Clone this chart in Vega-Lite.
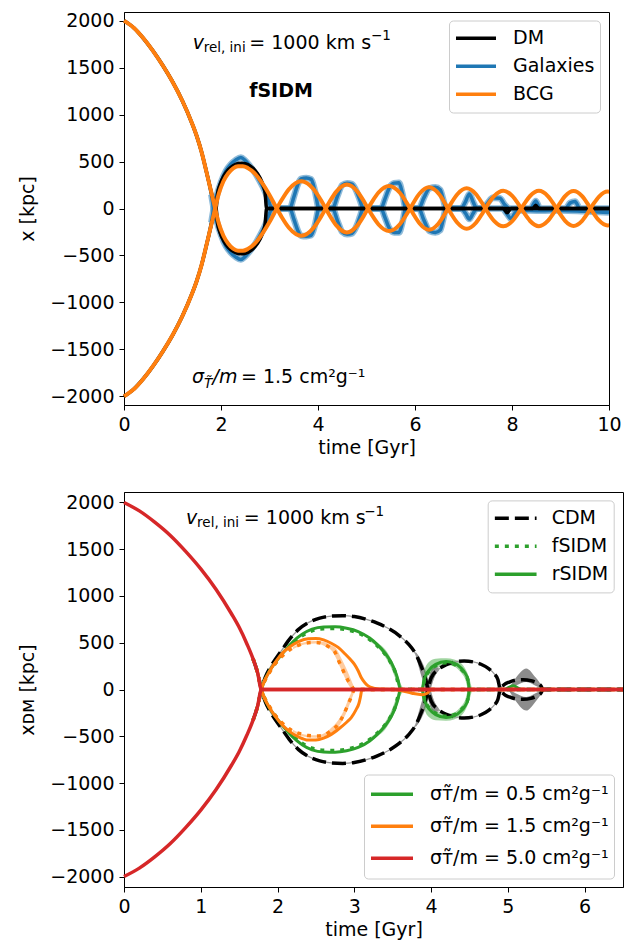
{
  "$schema": "https://vega.github.io/schema/vega-lite/v6.json",
  "background": "white",
  "padding": {"left": 18, "top": 11, "right": 5, "bottom": 2},
  "config": {
    "font": "DejaVu Sans",
    "mark": {"invalid": "filter"},
    "view": {"stroke": "black", "strokeWidth": 1},
    "axis": {"domainColor": "black", "tickColor": "black", "tickSize": 5, "tickWidth": 1, "domainWidth": 1, "labelFontSize": 19, "titleFontSize": 19, "labelColor": "black", "titleColor": "black", "titleFontWeight": "normal", "grid": false, "labelPadding": 5, "labelFont": "DejaVu Sans", "titleFont": "DejaVu Sans", "labelFlush": false},
    "axisX": {"titlePadding": 4},
    "axisY": {"titlePadding": 12},
    "legend": {"labelFont": "DejaVu Sans", "labelColor": "black", "labelFontSize": 19, "labelLimit": 400, "symbolType": "stroke", "symbolStrokeWidth": 3.5, "padding": 5, "strokeColor": "#cccccc", "fillColor": "rgba(255,255,255,0.8)", "cornerRadius": 4, "rowPadding": 2},
    "text": {"font": "DejaVu Sans", "color": "black", "align": "left", "baseline": "alphabetic"}
  },
  "datasets": {
    "top": [
      {"s":"BCG","t":0,"a":2000,"b":-2000},{"s":"BCG","t":0.2,"a":1925,"b":-1925},{"s":"BCG","t":0.4,"a":1812,"b":-1812},{"s":"BCG","t":0.6,"a":1676,"b":-1676},{"s":"BCG","t":0.8,"a":1522,"b":-1522},{"s":"BCG","t":1.0,"a":1350,"b":-1350},{"s":"BCG","t":1.2,"a":1150,"b":-1150},{"s":"BCG","t":1.4,"a":910,"b":-910},{"s":"BCG","t":1.5,"a":770,"b":-770},{"s":"BCG","t":1.6,"a":600,"b":-600},{"s":"BCG","t":1.7,"a":390,"b":-390},{"s":"BCG","t":1.76,"a":259,"b":-259},{"s":"BCG","t":1.82,"a":130,"b":-130},{"s":"BCG","t":1.88,"a":0,"b":0},{"s":"BCG","t":1.95,"a":-150,"b":150},{"s":"BCG","t":2.05,"a":-290,"b":290},{"s":"BCG","t":2.15,"a":-375,"b":375},{"s":"BCG","t":2.25,"a":-428,"b":428},{"s":"BCG","t":2.35,"a":-450,"b":450},{"s":"BCG","t":2.45,"a":-450,"b":450},{"s":"BCG","t":2.55,"a":-432,"b":432},{"s":"BCG","t":2.7,"a":-372,"b":372},{"s":"BCG","t":2.85,"a":-270,"b":270},{"s":"BCG","t":3.0,"a":-145,"b":145},{"s":"BCG","t":3.15,"a":0,"b":0},{"s":"BCG","t":3.25,"a":90,"b":-90},{"s":"BCG","t":3.4,"a":205,"b":-205},{"s":"BCG","t":3.655,"a":290,"b":-290},{"s":"BCG","t":3.91,"a":205,"b":-205},{"s":"BCG","t":4.06,"a":90,"b":-90},{"s":"BCG","t":4.16,"a":0,"b":0},{"s":"BCG","t":4.247,"a":-79,"b":79},{"s":"BCG","t":4.378,"a":-180,"b":180},{"s":"BCG","t":4.595,"a":-255,"b":255},{"s":"BCG","t":4.813,"a":-180,"b":180},{"s":"BCG","t":4.943,"a":-79,"b":79},{"s":"BCG","t":5.03,"a":0,"b":0},{"s":"BCG","t":5.117,"a":74,"b":-74},{"s":"BCG","t":5.248,"a":170,"b":-170},{"s":"BCG","t":5.465,"a":240,"b":-240},{"s":"BCG","t":5.683,"a":170,"b":-170},{"s":"BCG","t":5.813,"a":74,"b":-74},{"s":"BCG","t":5.9,"a":0,"b":0},{"s":"BCG","t":5.978,"a":-70,"b":70},{"s":"BCG","t":6.095,"a":-159,"b":159},{"s":"BCG","t":6.29,"a":-225,"b":225},{"s":"BCG","t":6.485,"a":-159,"b":159},{"s":"BCG","t":6.602,"a":-70,"b":70},{"s":"BCG","t":6.68,"a":0,"b":0},{"s":"BCG","t":6.757,"a":66,"b":-66},{"s":"BCG","t":6.873,"a":152,"b":-152},{"s":"BCG","t":7.065,"a":215,"b":-215},{"s":"BCG","t":7.258,"a":152,"b":-152},{"s":"BCG","t":7.373,"a":66,"b":-66},{"s":"BCG","t":7.45,"a":0,"b":0},{"s":"BCG","t":7.524,"a":-59,"b":59},{"s":"BCG","t":7.635,"a":-134,"b":134},{"s":"BCG","t":7.82,"a":-190,"b":190},{"s":"BCG","t":8.005,"a":-134,"b":134},{"s":"BCG","t":8.116,"a":-59,"b":59},{"s":"BCG","t":8.19,"a":0,"b":0},{"s":"BCG","t":8.263,"a":58,"b":-58},{"s":"BCG","t":8.373,"a":133,"b":-133},{"s":"BCG","t":8.555,"a":188,"b":-188},{"s":"BCG","t":8.738,"a":133,"b":-133},{"s":"BCG","t":8.847,"a":58,"b":-58},{"s":"BCG","t":8.92,"a":0,"b":0},{"s":"BCG","t":8.99,"a":-57,"b":57},{"s":"BCG","t":9.095,"a":-131,"b":131},{"s":"BCG","t":9.27,"a":-185,"b":185},{"s":"BCG","t":9.445,"a":-131,"b":131},{"s":"BCG","t":9.55,"a":-57,"b":57},{"s":"BCG","t":9.62,"a":0,"b":0},{"s":"BCG","t":9.69,"a":56,"b":-56},{"s":"BCG","t":9.795,"a":127,"b":-127},{"s":"BCG","t":9.97,"a":180,"b":-180},{"s":"BCG","t":10,"a":179,"b":-179},
      {"s":"DM","t":0,"a":2000,"b":-2000},{"s":"DM","t":0.2,"a":1925,"b":-1925},{"s":"DM","t":0.4,"a":1812,"b":-1812},{"s":"DM","t":0.6,"a":1676,"b":-1676},{"s":"DM","t":0.8,"a":1522,"b":-1522},{"s":"DM","t":1.0,"a":1350,"b":-1350},{"s":"DM","t":1.2,"a":1150,"b":-1150},{"s":"DM","t":1.4,"a":910,"b":-910},{"s":"DM","t":1.5,"a":770,"b":-770},{"s":"DM","t":1.6,"a":600,"b":-600},{"s":"DM","t":1.7,"a":390,"b":-390},{"s":"DM","t":1.76,"a":259,"b":-259},{"s":"DM","t":1.82,"a":130,"b":-130},{"s":"DM","t":1.9,"a":0,"b":0},{"s":"DM","t":1.93,"a":-162,"b":162},{"s":"DM","t":1.98,"a":-257,"b":257},{"s":"DM","t":2.05,"a":-339,"b":339},{"s":"DM","t":2.15,"a":-413,"b":413},{"s":"DM","t":2.25,"a":-456,"b":456},{"s":"DM","t":2.35,"a":-479,"b":479},{"s":"DM","t":2.42,"a":-483,"b":483},{"s":"DM","t":2.5,"a":-477,"b":477},{"s":"DM","t":2.6,"a":-453,"b":453},{"s":"DM","t":2.7,"a":-407,"b":407},{"s":"DM","t":2.8,"a":-330,"b":330},{"s":"DM","t":2.87,"a":-242,"b":242},{"s":"DM","t":2.91,"a":-162,"b":162},{"s":"DM","t":2.94,"a":0,"b":0},{"s":"DM","t":7.82,"a":0,"b":0},{"s":"DM","t":7.9,"a":-45,"b":0},{"s":"DM","t":7.98,"a":0,"b":0},{"s":"DM","t":8.43,"a":0,"b":0},{"s":"DM","t":8.49,"a":0,"b":35},{"s":"DM","t":8.55,"a":0,"b":0},{"s":"DM","t":10,"a":0,"b":0},
      {"s":"Galaxies","t":0,"a":2000,"b":-2000},{"s":"Galaxies","t":0.2,"a":1925,"b":-1925},{"s":"Galaxies","t":0.4,"a":1812,"b":-1812},{"s":"Galaxies","t":0.6,"a":1676,"b":-1676},{"s":"Galaxies","t":0.8,"a":1522,"b":-1522},{"s":"Galaxies","t":1.0,"a":1350,"b":-1350},{"s":"Galaxies","t":1.2,"a":1150,"b":-1150},{"s":"Galaxies","t":1.4,"a":910,"b":-910},{"s":"Galaxies","t":1.5,"a":770,"b":-770},{"s":"Galaxies","t":1.6,"a":600,"b":-600},{"s":"Galaxies","t":1.7,"a":390,"b":-390},{"s":"Galaxies","t":1.76,"a":259,"b":-259},{"s":"Galaxies","t":1.8,"a":150,"b":-150},{"s":"Galaxies","t":1.85,"a":0,"b":0},{"s":"Galaxies","t":1.92,"a":-150,"b":150},{"s":"Galaxies","t":2.0,"a":-280,"b":280},{"s":"Galaxies","t":2.1,"a":-400,"b":400},{"s":"Galaxies","t":2.2,"a":-470,"b":470},{"s":"Galaxies","t":2.3,"a":-515,"b":515},{"s":"Galaxies","t":2.41,"a":-543,"b":543},{"s":"Galaxies","t":2.5,"a":-510,"b":510},{"s":"Galaxies","t":2.6,"a":-450,"b":450},{"s":"Galaxies","t":2.7,"a":-380,"b":380},{"s":"Galaxies","t":2.8,"a":-290,"b":290},{"s":"Galaxies","t":2.9,"a":-190,"b":190},{"s":"Galaxies","t":2.97,"a":-100,"b":100},{"s":"Galaxies","t":3.05,"a":0,"b":0},{"s":"Galaxies","t":3.42,"a":0,"b":0},{"s":"Galaxies","t":3.5,"a":120,"b":-110},{"s":"Galaxies","t":3.58,"a":250,"b":-230},{"s":"Galaxies","t":3.65,"a":315,"b":-290},{"s":"Galaxies","t":3.76,"a":325,"b":-295},{"s":"Galaxies","t":3.86,"a":310,"b":-285},{"s":"Galaxies","t":3.94,"a":180,"b":-170},{"s":"Galaxies","t":4.02,"a":0,"b":0},{"s":"Galaxies","t":4.3,"a":0,"b":0},{"s":"Galaxies","t":4.4,"a":-130,"b":130},{"s":"Galaxies","t":4.5,"a":-250,"b":250},{"s":"Galaxies","t":4.6,"a":-275,"b":270},{"s":"Galaxies","t":4.7,"a":-265,"b":260},{"s":"Galaxies","t":4.8,"a":-180,"b":175},{"s":"Galaxies","t":4.87,"a":-80,"b":80},{"s":"Galaxies","t":4.93,"a":0,"b":0},{"s":"Galaxies","t":5.3,"a":0,"b":0},{"s":"Galaxies","t":5.38,"a":100,"b":-95},{"s":"Galaxies","t":5.47,"a":220,"b":-210},{"s":"Galaxies","t":5.57,"a":270,"b":-255},{"s":"Galaxies","t":5.67,"a":275,"b":-255},{"s":"Galaxies","t":5.74,"a":160,"b":-150},{"s":"Galaxies","t":5.81,"a":0,"b":0},{"s":"Galaxies","t":6.08,"a":0,"b":0},{"s":"Galaxies","t":6.18,"a":-120,"b":110},{"s":"Galaxies","t":6.3,"a":-240,"b":215},{"s":"Galaxies","t":6.42,"a":-255,"b":225},{"s":"Galaxies","t":6.52,"a":-230,"b":200},{"s":"Galaxies","t":6.58,"a":-120,"b":100},{"s":"Galaxies","t":6.64,"a":0,"b":0},{"s":"Galaxies","t":6.95,"a":0,"b":0},{"s":"Galaxies","t":7.04,"a":70,"b":-50},{"s":"Galaxies","t":7.12,"a":155,"b":-113},{"s":"Galaxies","t":7.2,"a":70,"b":-50},{"s":"Galaxies","t":7.27,"a":0,"b":0},{"s":"Galaxies","t":7.4,"a":0,"b":0},{"s":"Galaxies","t":7.5,"a":60},{"s":"Galaxies","t":7.6,"a":115},{"s":"Galaxies","t":7.75,"a":110},{"s":"Galaxies","t":7.8,"b":0},{"s":"Galaxies","t":7.85,"a":40},{"s":"Galaxies","t":7.9,"b":-60},{"s":"Galaxies","t":7.95,"a":0},{"s":"Galaxies","t":7.98,"b":-110},{"s":"Galaxies","t":8.06,"b":-50},{"s":"Galaxies","t":8.15,"b":-20},{"s":"Galaxies","t":8.38,"a":0},{"s":"Galaxies","t":8.49,"a":80},{"s":"Galaxies","t":8.58,"a":0},{"s":"Galaxies","t":8.6,"b":-25},{"s":"Galaxies","t":9.0,"b":-20},{"s":"Galaxies","t":9.1,"a":0},{"s":"Galaxies","t":9.2,"a":60},{"s":"Galaxies","t":9.3,"a":75},{"s":"Galaxies","t":9.4,"a":0},{"s":"Galaxies","t":9.5,"b":-30},{"s":"Galaxies","t":10,"a":0,"b":-42}
    ],
    "bot": [
      {"k":"R","t":0,"a":2000,"b":-2000},{"k":"R","t":0.2,"a":1910,"b":-1910},{"k":"R","t":0.4,"a":1790,"b":-1790},{"k":"R","t":0.6,"a":1650,"b":-1650},{"k":"R","t":0.8,"a":1480,"b":-1480},{"k":"R","t":1.0,"a":1290,"b":-1290},{"k":"R","t":1.2,"a":1070,"b":-1070},{"k":"R","t":1.4,"a":810,"b":-810},{"k":"R","t":1.5,"a":665,"b":-665},{"k":"R","t":1.6,"a":490,"b":-490},{"k":"R","t":1.68,"a":330,"b":-330},{"k":"R","t":1.74,"a":180,"b":-180},{"k":"R","t":1.79,"a":0,"b":0},{"k":"R","t":6.5,"a":0,"b":0},
      {"k":"C","t":1.68,"a":330,"b":-330},{"k":"C","t":1.74,"a":180,"b":-180},{"k":"C","t":1.79,"a":0,"b":0},{"k":"C","t":1.84,"a":-130,"b":130},{"k":"C","t":1.9,"a":-230,"b":230},{"k":"C","t":1.97,"a":-320,"b":320},{"k":"C","t":2.05,"a":-414,"b":414},{"k":"C","t":2.15,"a":-530,"b":530},{"k":"C","t":2.27,"a":-640,"b":640},{"k":"C","t":2.4,"a":-715,"b":715},{"k":"C","t":2.55,"a":-763,"b":763},{"k":"C","t":2.7,"a":-785,"b":785},{"k":"C","t":2.85,"a":-790,"b":790},{"k":"C","t":3.0,"a":-780,"b":780},{"k":"C","t":3.15,"a":-752,"b":752},{"k":"C","t":3.3,"a":-710,"b":710},{"k":"C","t":3.44,"a":-655,"b":655},{"k":"C","t":3.58,"a":-580,"b":580},{"k":"C","t":3.7,"a":-490,"b":490},{"k":"C","t":3.8,"a":-380,"b":380},{"k":"C","t":3.87,"a":-250,"b":250},{"k":"C","t":3.93,"a":-110,"b":110},{"k":"C","t":3.96,"a":0,"b":0},{"k":"C","t":4.0,"a":123,"b":-123},{"k":"C","t":4.1,"a":217,"b":-217},{"k":"C","t":4.2,"a":266,"b":-266},{"k":"C","t":4.3,"a":293,"b":-293},{"k":"C","t":4.43,"a":305,"b":-305},{"k":"C","t":4.55,"a":295,"b":-295},{"k":"C","t":4.65,"a":270,"b":-270},{"k":"C","t":4.75,"a":223,"b":-223},{"k":"C","t":4.82,"a":170,"b":-170},{"k":"C","t":4.87,"a":107,"b":-107},{"k":"C","t":4.9,"a":0,"b":0},{"k":"C","t":4.95,"a":-50,"b":50},{"k":"C","t":5.02,"a":-80,"b":80},{"k":"C","t":5.1,"a":-100,"b":100},{"k":"C","t":5.2,"a":-105,"b":105},{"k":"C","t":5.3,"a":-95,"b":95},{"k":"C","t":5.38,"a":-70,"b":70},{"k":"C","t":5.43,"a":-40,"b":40},{"k":"C","t":5.46,"a":0,"b":0},{"k":"C","t":6.5,"a":0,"b":0},
      {"k":"GR","t":1.68,"a":330,"b":-330},{"k":"GR","t":1.74,"a":180,"b":-180},{"k":"GR","t":1.79,"a":0,"b":0},{"k":"GR","t":1.85,"a":-130,"b":130},{"k":"GR","t":1.92,"a":-230,"b":230},{"k":"GR","t":2.0,"a":-320,"b":320},{"k":"GR","t":2.1,"a":-420,"b":420},{"k":"GR","t":2.2,"a":-510,"b":510},{"k":"GR","t":2.32,"a":-590,"b":590},{"k":"GR","t":2.45,"a":-645,"b":645},{"k":"GR","t":2.6,"a":-668,"b":668},{"k":"GR","t":2.75,"a":-670,"b":670},{"k":"GR","t":2.9,"a":-655,"b":655},{"k":"GR","t":3.05,"a":-620,"b":620},{"k":"GR","t":3.2,"a":-550,"b":550},{"k":"GR","t":3.3,"a":-480,"b":480},{"k":"GR","t":3.4,"a":-390,"b":390},{"k":"GR","t":3.48,"a":-290,"b":290},{"k":"GR","t":3.53,"a":-200,"b":200},{"k":"GR","t":3.57,"a":-100,"b":100},{"k":"GR","t":3.6,"a":0,"b":0},{"k":"GR","t":3.88,"a":0,"b":0},{"k":"GR","t":3.92,"a":130,"b":-130},{"k":"GR","t":3.98,"a":213,"b":-213},{"k":"GR","t":4.06,"a":269,"b":-269},{"k":"GR","t":4.195,"a":300,"b":-300},{"k":"GR","t":4.3,"a":282,"b":-282},{"k":"GR","t":4.38,"a":238,"b":-238},{"k":"GR","t":4.44,"a":179,"b":-179},{"k":"GR","t":4.48,"a":107,"b":-107},{"k":"GR","t":4.5,"a":0,"b":0},{"k":"GR","t":4.95,"a":0,"b":0},{"k":"GR","t":5.07,"a":40,"b":0},{"k":"GR","t":5.18,"a":0,"b":0},{"k":"GR","t":6.5,"a":0,"b":0},
      {"k":"GF","t":1.68,"a":330,"b":-330},{"k":"GF","t":1.74,"a":180,"b":-180},{"k":"GF","t":1.79,"a":0,"b":0},{"k":"GF","t":1.85,"a":-125,"b":125},{"k":"GF","t":1.92,"a":-222,"b":222},{"k":"GF","t":2.0,"a":-310,"b":310},{"k":"GF","t":2.1,"a":-408,"b":408},{"k":"GF","t":2.2,"a":-495,"b":495},{"k":"GF","t":2.32,"a":-575,"b":575},{"k":"GF","t":2.45,"a":-628,"b":628},{"k":"GF","t":2.6,"a":-650,"b":650},{"k":"GF","t":2.75,"a":-652,"b":652},{"k":"GF","t":2.9,"a":-638,"b":638},{"k":"GF","t":3.05,"a":-603,"b":603},{"k":"GF","t":3.2,"a":-535,"b":535},{"k":"GF","t":3.3,"a":-466,"b":466},{"k":"GF","t":3.4,"a":-378,"b":378},{"k":"GF","t":3.48,"a":-280,"b":280},{"k":"GF","t":3.53,"a":-193,"b":193},{"k":"GF","t":3.56,"a":-100,"b":100},{"k":"GF","t":3.59,"a":0,"b":0},{"k":"GF","t":3.88,"a":0,"b":0},{"k":"GF","t":3.92,"a":120,"b":-120},{"k":"GF","t":3.98,"a":200,"b":-200},{"k":"GF","t":4.06,"a":255,"b":-255},{"k":"GF","t":4.195,"a":285,"b":-285},{"k":"GF","t":4.3,"a":270,"b":-270},{"k":"GF","t":4.38,"a":225,"b":-225},{"k":"GF","t":4.44,"a":170,"b":-170},{"k":"GF","t":4.48,"a":100,"b":-100},{"k":"GF","t":4.5,"a":0,"b":0},{"k":"GF","t":6.5,"a":0,"b":0},
      {"k":"OR","t":1.68,"a":330,"b":-330},{"k":"OR","t":1.74,"a":180,"b":-180},{"k":"OR","t":1.79,"a":0,"b":0},{"k":"OR","t":1.84,"a":-110,"b":110},{"k":"OR","t":1.9,"a":-200,"b":200},{"k":"OR","t":1.97,"a":-285,"b":290},{"k":"OR","t":2.05,"a":-370,"b":378},{"k":"OR","t":2.15,"a":-445,"b":450},{"k":"OR","t":2.28,"a":-510,"b":515},{"k":"OR","t":2.4,"a":-540,"b":542},{"k":"OR","t":2.5,"a":-540,"b":545},{"k":"OR","t":2.6,"a":-520,"b":530},{"k":"OR","t":2.7,"a":-480,"b":495},{"k":"OR","t":2.79,"b":450},{"k":"OR","t":2.8,"a":-420},{"k":"OR","t":2.88,"b":380},{"k":"OR","t":2.9,"a":-350},{"k":"OR","t":2.95,"b":320},{"k":"OR","t":2.96,"a":-300},{"k":"OR","t":3.0,"b":271},{"k":"OR","t":3.02,"a":-220},{"k":"OR","t":3.05,"b":200},{"k":"OR","t":3.06,"a":-150},{"k":"OR","t":3.08,"a":-80},{"k":"OR","t":3.09,"b":128},{"k":"OR","t":3.1,"a":0},{"k":"OR","t":3.14,"b":70},{"k":"OR","t":3.18,"b":39},{"k":"OR","t":3.25,"b":15},{"k":"OR","t":3.35,"b":4},{"k":"OR","t":3.5,"b":0},{"k":"OR","t":3.6,"b":-10},{"k":"OR","t":3.75,"b":-40},{"k":"OR","t":3.88,"b":-55},{"k":"OR","t":3.95,"b":-40},{"k":"OR","t":4.0,"b":0},{"k":"OR","t":6.5,"a":0,"b":0},
      {"k":"OF","t":1.68,"a":330,"b":-330},{"k":"OF","t":1.74,"a":180,"b":-180},{"k":"OF","t":1.79,"a":0,"b":0},{"k":"OF","t":1.84,"a":-105,"b":105},{"k":"OF","t":1.9,"a":-190,"b":190},{"k":"OF","t":1.97,"a":-275,"b":275},{"k":"OF","t":2.05,"a":-350,"b":350},{"k":"OF","t":2.15,"a":-420,"b":420},{"k":"OF","t":2.28,"a":-470,"b":475},{"k":"OF","t":2.4,"a":-493,"b":500},{"k":"OF","t":2.5,"a":-497,"b":503},{"k":"OF","t":2.6,"a":-490,"b":485},{"k":"OF","t":2.68,"b":450},{"k":"OF","t":2.7,"a":-440},{"k":"OF","t":2.74,"b":413},{"k":"OF","t":2.79,"a":-371},{"k":"OF","t":2.8,"b":300},{"k":"OF","t":2.85,"b":210},{"k":"OF","t":2.86,"a":-270},{"k":"OF","t":2.92,"a":-157,"b":93},{"k":"OF","t":2.96,"b":45},{"k":"OF","t":2.97,"a":-60},{"k":"OF","t":3.0,"a":0,"b":0},{"k":"OF","t":6.5,"a":0,"b":0}
    ],
    "bands": [
      {"k":"O","g":"u","t":2.2,"lo":430,"hi":455},{"k":"O","g":"u","t":2.35,"lo":480,"hi":505},{"k":"O","g":"u","t":2.5,"lo":493,"hi":518},{"k":"O","g":"u","t":2.62,"lo":462,"hi":505},{"k":"O","g":"u","t":2.7,"lo":420,"hi":470},{"k":"O","g":"u","t":2.76,"lo":340,"hi":440},{"k":"O","g":"u","t":2.82,"lo":230,"hi":350},{"k":"O","g":"u","t":2.88,"lo":120,"hi":250},{"k":"O","g":"u","t":2.94,"lo":30,"hi":140},{"k":"O","g":"u","t":2.98,"lo":0,"hi":60},{"k":"O","g":"u","t":3.01,"lo":0,"hi":8},
      {"k":"O","g":"l","t":2.2,"lo":-455,"hi":-430},{"k":"O","g":"l","t":2.35,"lo":-505,"hi":-480},{"k":"O","g":"l","t":2.5,"lo":-515,"hi":-490},{"k":"O","g":"l","t":2.62,"lo":-500,"hi":-462},{"k":"O","g":"l","t":2.7,"lo":-462,"hi":-410},{"k":"O","g":"l","t":2.79,"lo":-400,"hi":-330},{"k":"O","g":"l","t":2.86,"lo":-310,"hi":-230},{"k":"O","g":"l","t":2.92,"lo":-200,"hi":-110},{"k":"O","g":"l","t":2.97,"lo":-90,"hi":-25},{"k":"O","g":"l","t":3.01,"lo":-8,"hi":0},
      {"k":"G","g":"u","t":3.2,"lo":515,"hi":560},{"k":"G","g":"u","t":3.3,"lo":455,"hi":500},{"k":"G","g":"u","t":3.4,"lo":350,"hi":430},{"k":"G","g":"u","t":3.47,"lo":250,"hi":340},{"k":"G","g":"u","t":3.52,"lo":150,"hi":260},{"k":"G","g":"u","t":3.56,"lo":60,"hi":170},{"k":"G","g":"u","t":3.6,"lo":0,"hi":70},{"k":"G","g":"u","t":3.64,"lo":0,"hi":10},
      {"k":"G","g":"l","t":3.2,"lo":-560,"hi":-515},{"k":"G","g":"l","t":3.3,"lo":-500,"hi":-455},{"k":"G","g":"l","t":3.4,"lo":-430,"hi":-350},{"k":"G","g":"l","t":3.47,"lo":-340,"hi":-250},{"k":"G","g":"l","t":3.52,"lo":-260,"hi":-150},{"k":"G","g":"l","t":3.56,"lo":-170,"hi":-60},{"k":"G","g":"l","t":3.6,"lo":-70,"hi":0},{"k":"G","g":"l","t":3.64,"lo":-10,"hi":0},
      {"k":"G","g":"u2","t":3.87,"lo":0,"hi":20},{"k":"G","g":"u2","t":3.91,"lo":60,"hi":200},{"k":"G","g":"u2","t":3.98,"lo":170,"hi":300},{"k":"G","g":"u2","t":4.06,"lo":230,"hi":330},{"k":"G","g":"u2","t":4.195,"lo":260,"hi":335},{"k":"G","g":"u2","t":4.3,"lo":245,"hi":320},{"k":"G","g":"u2","t":4.38,"lo":190,"hi":290},{"k":"G","g":"u2","t":4.44,"lo":120,"hi":230},{"k":"G","g":"u2","t":4.49,"lo":0,"hi":140},{"k":"G","g":"u2","t":4.53,"lo":0,"hi":20},
      {"k":"G","g":"l2","t":3.87,"lo":-20,"hi":0},{"k":"G","g":"l2","t":3.91,"lo":-200,"hi":-60},{"k":"G","g":"l2","t":3.98,"lo":-300,"hi":-170},{"k":"G","g":"l2","t":4.06,"lo":-330,"hi":-230},{"k":"G","g":"l2","t":4.195,"lo":-335,"hi":-260},{"k":"G","g":"l2","t":4.3,"lo":-320,"hi":-245},{"k":"G","g":"l2","t":4.38,"lo":-290,"hi":-190},{"k":"G","g":"l2","t":4.44,"lo":-230,"hi":-120},{"k":"G","g":"l2","t":4.49,"lo":-140,"hi":0},{"k":"G","g":"l2","t":4.53,"lo":-20,"hi":0},
      {"k":"C","g":"c1","t":3.8,"lo":-400,"hi":-360},{"k":"C","g":"c1","t":3.86,"lo":-330,"hi":-180},{"k":"C","g":"c1","t":3.92,"lo":-220,"hi":-20},{"k":"C","g":"c1","t":3.96,"lo":-100,"hi":100},{"k":"C","g":"c1","t":4.0,"lo":20,"hi":200},{"k":"C","g":"c1","t":4.05,"lo":140,"hi":240},{"k":"C","g":"c1","t":4.1,"lo":200,"hi":235},
      {"k":"C","g":"c2","t":3.8,"lo":360,"hi":400},{"k":"C","g":"c2","t":3.86,"lo":180,"hi":330},{"k":"C","g":"c2","t":3.92,"lo":20,"hi":220},{"k":"C","g":"c2","t":3.96,"lo":-100,"hi":100},{"k":"C","g":"c2","t":4.0,"lo":-200,"hi":-20},{"k":"C","g":"c2","t":4.05,"lo":-240,"hi":-140},{"k":"C","g":"c2","t":4.1,"lo":-235,"hi":-200},
      {"k":"C","g":"c3","t":5.02,"lo":0,"hi":20},{"k":"C","g":"c3","t":5.1,"lo":40,"hi":120},{"k":"C","g":"c3","t":5.24,"lo":80,"hi":225},{"k":"C","g":"c3","t":5.36,"lo":40,"hi":130},{"k":"C","g":"c3","t":5.46,"lo":0,"hi":20},
      {"k":"C","g":"c4","t":5.02,"lo":-20,"hi":0},{"k":"C","g":"c4","t":5.1,"lo":-120,"hi":-40},{"k":"C","g":"c4","t":5.24,"lo":-225,"hi":-80},{"k":"C","g":"c4","t":5.36,"lo":-130,"hi":-40},{"k":"C","g":"c4","t":5.46,"lo":-20,"hi":0}
    ]
  },
  "spacing": 33,
  "vconcat": [
    {
      "width": 485,
      "height": 393,
      "layer": [
        {"data": {"name": "top"}, "transform": [{"filter": "datum.s == 'Galaxies' && datum.t >= 1.8"}, {"fold": ["a", "b"], "as": ["ln", "x"]}, {"filter": "isValid(datum.x)"}], "mark": {"type": "line", "color": "#1f77b4", "opacity": 0.5, "strokeWidth": 6.5, "interpolate": "monotone", "strokeJoin": "round"},
          "encoding": {
            "x": {"field": "t", "type": "quantitative", "scale": {"domain": [0, 10], "nice": false, "zero": false}, "axis": {"values": [0, 2, 4, 6, 8, 10], "format": "d", "title": "time [Gyr]"}},
            "y": {"field": "x", "type": "quantitative", "scale": {"domain": [-2092, 2092], "nice": false, "zero": false}, "axis": {"values": [-2000, -1500, -1000, -500, 0, 500, 1000, 1500, 2000], "format": "d", "title": "x [kpc]"}},
            "detail": {"field": "ln"}}},
        {"data": {"name": "top"}, "transform": [{"filter": "datum.s == 'Galaxies'"}, {"fold": ["a", "b"], "as": ["ln", "x"]}, {"filter": "isValid(datum.x)"}], "mark": {"type": "line", "strokeWidth": 3.5, "interpolate": "monotone"},
          "encoding": {
            "x": {"field": "t", "type": "quantitative", "scale": {"domain": [0, 10], "nice": false, "zero": false}},
            "y": {"field": "x", "type": "quantitative", "scale": {"domain": [-2092, 2092], "nice": false, "zero": false}},
            "detail": {"field": "ln"},
            "color": {"field": "s", "type": "nominal", "scale": {"domain": ["DM", "Galaxies", "BCG"], "range": ["black", "#1f77b4", "#ff7f0e"]}, "legend": {"title": null, "orient": "none", "legendX": 325, "legendY": 8.5, "symbolSize": 1600, "clipHeight": 25.5, "labelOffset": 15}}}},
        {"data": {"name": "top"}, "transform": [{"filter": "datum.s == 'DM'"}, {"fold": ["a", "b"], "as": ["ln", "x"]}, {"filter": "isValid(datum.x)"}], "mark": {"type": "line", "strokeWidth": 3.5, "interpolate": "monotone"},
          "encoding": {
            "x": {"field": "t", "type": "quantitative", "scale": {"domain": [0, 10], "nice": false, "zero": false}},
            "y": {"field": "x", "type": "quantitative", "scale": {"domain": [-2092, 2092], "nice": false, "zero": false}},
            "detail": {"field": "ln"},
            "color": {"field": "s", "type": "nominal", "scale": {"domain": ["DM", "Galaxies", "BCG"], "range": ["black", "#1f77b4", "#ff7f0e"]}}}},
        {"data": {"name": "top"}, "transform": [{"filter": "datum.s == 'BCG'"}, {"fold": ["a", "b"], "as": ["ln", "x"]}, {"filter": "isValid(datum.x)"}], "mark": {"type": "line", "strokeWidth": 4, "interpolate": "monotone"},
          "encoding": {
            "x": {"field": "t", "type": "quantitative", "scale": {"domain": [0, 10], "nice": false, "zero": false}},
            "y": {"field": "x", "type": "quantitative", "scale": {"domain": [-2092, 2092], "nice": false, "zero": false}},
            "detail": {"field": "ln"},
            "color": {"field": "s", "type": "nominal", "scale": {"domain": ["DM", "Galaxies", "BCG"], "range": ["black", "#1f77b4", "#ff7f0e"]}}}},
        {"data": {"values": [{}]}, "mark": {"type": "text", "text": "v", "fontStyle": "italic", "fontSize": 19}, "encoding": {"x": {"datum": 1.416, "type": "quantitative"}, "y": {"datum": 1698, "type": "quantitative"}}},
        {"data": {"values": [{}]}, "mark": {"type": "text", "text": "rel, ini", "fontSize": 13.5}, "encoding": {"x": {"datum": 1.643, "type": "quantitative"}, "y": {"datum": 1661, "type": "quantitative"}}},
        {"data": {"values": [{}]}, "mark": {"type": "text", "text": "= 1000 km s", "fontSize": 19}, "encoding": {"x": {"datum": 2.584, "type": "quantitative"}, "y": {"datum": 1698, "type": "quantitative"}}},
        {"data": {"values": [{}]}, "mark": {"type": "text", "text": "−1", "fontSize": 13.5}, "encoding": {"x": {"datum": 5.093, "type": "quantitative"}, "y": {"datum": 1793, "type": "quantitative"}}},
        {"data": {"values": [{}]}, "mark": {"type": "text", "text": "fSIDM", "fontSize": 19, "fontWeight": "bold", "align": "center"}, "encoding": {"x": {"datum": 3.237, "type": "quantitative"}, "y": {"datum": 1182, "type": "quantitative"}}},
        {"data": {"values": [{}]}, "mark": {"type": "text", "text": "σ", "fontStyle": "italic", "fontSize": 19}, "encoding": {"x": {"datum": 1.402, "type": "quantitative"}, "y": {"datum": -1859, "type": "quantitative"}}},
        {"data": {"values": [{}]}, "mark": {"type": "text", "text": "T̃", "fontStyle": "italic", "fontSize": 13.5}, "encoding": {"x": {"datum": 1.649, "type": "quantitative"}, "y": {"datum": -1909, "type": "quantitative"}}},
        {"data": {"values": [{}]}, "mark": {"type": "text", "text": "/m", "fontStyle": "italic", "fontSize": 19}, "encoding": {"x": {"datum": 1.825, "type": "quantitative"}, "y": {"datum": -1859, "type": "quantitative"}}},
        {"data": {"values": [{}]}, "mark": {"type": "text", "text": "= 1.5 cm²g⁻¹", "fontSize": 19}, "encoding": {"x": {"datum": 2.412, "type": "quantitative"}, "y": {"datum": -1859, "type": "quantitative"}}}
      ]
    },
    {
      "width": 499,
      "height": 395,
      "resolve": {"scale": {"color": "independent", "strokeDash": "independent"}},
      "layer": [
        {"data": {"name": "bands"}, "transform": [{"filter": "datum.k == 'C'"}], "mark": {"type": "area", "color": "black", "opacity": 0.45, "interpolate": "monotone"},
          "encoding": {
            "x": {"field": "t", "type": "quantitative", "scale": {"domain": [0, 6.5], "nice": false, "zero": false}, "axis": {"values": [0, 1, 2, 3, 4, 5, 6], "format": "d", "title": "time [Gyr]"}},
            "y": {"field": "lo", "type": "quantitative", "scale": {"domain": [-2112, 2112], "nice": false, "zero": false}, "axis": {"values": [-2000, -1500, -1000, -500, 0, 500, 1000, 1500, 2000], "format": "d", "title": "xᴅᴍ [kpc]"}},
            "y2": {"field": "hi"}, "detail": {"field": "g"}}},
        {"data": {"name": "bands"}, "transform": [{"filter": "datum.k == 'G'"}], "mark": {"type": "area", "color": "#2ca02c", "opacity": 0.45, "interpolate": "monotone"},
          "encoding": {
            "x": {"field": "t", "type": "quantitative", "scale": {"domain": [0, 6.5], "nice": false, "zero": false}},
            "y": {"field": "lo", "type": "quantitative", "scale": {"domain": [-2112, 2112], "nice": false, "zero": false}},
            "y2": {"field": "hi"}, "detail": {"field": "g"}}},
        {"data": {"name": "bands"}, "transform": [{"filter": "datum.k == 'O'"}], "mark": {"type": "area", "color": "#ff7f0e", "opacity": 0.4, "interpolate": "monotone"},
          "encoding": {
            "x": {"field": "t", "type": "quantitative", "scale": {"domain": [0, 6.5], "nice": false, "zero": false}},
            "y": {"field": "lo", "type": "quantitative", "scale": {"domain": [-2112, 2112], "nice": false, "zero": false}},
            "y2": {"field": "hi"}, "detail": {"field": "g"}}},
        {"data": {"name": "bot"}, "transform": [{"filter": "datum.k == 'C'"}, {"fold": ["a", "b"], "as": ["ln", "x"]}, {"filter": "isValid(datum.x)"}], "mark": {"type": "line", "color": "#999999", "strokeWidth": 1.3, "interpolate": "monotone"},
          "encoding": {
            "x": {"field": "t", "type": "quantitative", "scale": {"domain": [0, 6.5], "nice": false, "zero": false}},
            "y": {"field": "x", "type": "quantitative", "scale": {"domain": [-2112, 2112], "nice": false, "zero": false}},
            "detail": {"field": "ln"}}},
        {"data": {"name": "bot"}, "transform": [{"filter": "datum.k == 'C'"}, {"fold": ["a", "b"], "as": ["ln", "x"]}, {"filter": "isValid(datum.x)"}], "mark": {"type": "line", "color": "black", "strokeWidth": 3.5, "strokeDash": [14, 6], "interpolate": "monotone"},
          "encoding": {
            "x": {"field": "t", "type": "quantitative", "scale": {"domain": [0, 6.5], "nice": false, "zero": false}},
            "y": {"field": "x", "type": "quantitative", "scale": {"domain": [-2112, 2112], "nice": false, "zero": false}},
            "detail": {"field": "ln"}}},
        {"data": {"name": "bot"}, "transform": [{"filter": "datum.k == 'GF'"}, {"fold": ["a", "b"], "as": ["ln", "x"]}, {"filter": "isValid(datum.x)"}], "mark": {"type": "line", "color": "#2ca02c", "strokeWidth": 3.5, "strokeDash": [4, 6], "interpolate": "monotone"},
          "encoding": {
            "x": {"field": "t", "type": "quantitative", "scale": {"domain": [0, 6.5], "nice": false, "zero": false}},
            "y": {"field": "x", "type": "quantitative", "scale": {"domain": [-2112, 2112], "nice": false, "zero": false}},
            "detail": {"field": "ln"}}},
        {"data": {"name": "bot"}, "transform": [{"filter": "datum.k == 'GR'"}, {"fold": ["a", "b"], "as": ["ln", "x"]}, {"filter": "isValid(datum.x)"}], "mark": {"type": "line", "color": "#2ca02c", "strokeWidth": 3, "interpolate": "monotone"},
          "encoding": {
            "x": {"field": "t", "type": "quantitative", "scale": {"domain": [0, 6.5], "nice": false, "zero": false}},
            "y": {"field": "x", "type": "quantitative", "scale": {"domain": [-2112, 2112], "nice": false, "zero": false}},
            "detail": {"field": "ln"}}},
        {"data": {"name": "bot"}, "transform": [{"filter": "datum.k == 'OF'"}, {"fold": ["a", "b"], "as": ["ln", "x"]}, {"filter": "isValid(datum.x)"}], "mark": {"type": "line", "color": "#ff7f0e", "strokeWidth": 3.5, "strokeDash": [4, 6], "interpolate": "monotone"},
          "encoding": {
            "x": {"field": "t", "type": "quantitative", "scale": {"domain": [0, 6.5], "nice": false, "zero": false}},
            "y": {"field": "x", "type": "quantitative", "scale": {"domain": [-2112, 2112], "nice": false, "zero": false}},
            "detail": {"field": "ln"}}},
        {"data": {"name": "bot"}, "transform": [{"filter": "datum.k == 'OR'"}, {"fold": ["a", "b"], "as": ["ln", "x"]}, {"filter": "isValid(datum.x)"}], "mark": {"type": "line", "color": "#ff7f0e", "strokeWidth": 3, "interpolate": "monotone"},
          "encoding": {
            "x": {"field": "t", "type": "quantitative", "scale": {"domain": [0, 6.5], "nice": false, "zero": false}},
            "y": {"field": "x", "type": "quantitative", "scale": {"domain": [-2112, 2112], "nice": false, "zero": false}},
            "detail": {"field": "ln"}}},
        {"data": {"name": "bot"}, "transform": [{"filter": "datum.k == 'R'"}, {"fold": ["a", "b"], "as": ["ln", "x"]}, {"filter": "isValid(datum.x)"}], "mark": {"type": "line", "color": "#d62728", "strokeWidth": 3.5, "interpolate": "monotone"},
          "encoding": {
            "x": {"field": "t", "type": "quantitative", "scale": {"domain": [0, 6.5], "nice": false, "zero": false}},
            "y": {"field": "x", "type": "quantitative", "scale": {"domain": [-2112, 2112], "nice": false, "zero": false}},
            "detail": {"field": "ln"}}},
        {"data": {"values": [{"m": "CDM"}, {"m": "fSIDM"}, {"m": "rSIDM"}]}, "mark": {"type": "line", "strokeWidth": 3.5},
          "encoding": {"x": {"datum": 0, "type": "quantitative"}, "y": {"datum": 0, "type": "quantitative"},
            "color": {"field": "m", "type": "nominal", "scale": {"domain": ["CDM", "fSIDM", "rSIDM"], "range": ["black", "#2ca02c", "#2ca02c"]}, "legend": {"title": null, "orient": "none", "legendX": 363.7, "legendY": 8.4, "symbolSize": 1740, "clipHeight": 25.8, "labelOffset": 13}},
            "strokeDash": {"field": "m", "type": "nominal", "scale": {"domain": ["CDM", "fSIDM", "rSIDM"], "range": [[14, 6], [4, 6], [1, 0]]}, "legend": {"title": null, "orient": "none", "legendX": 363.7, "legendY": 8.4, "symbolSize": 1740, "clipHeight": 25.8, "labelOffset": 13}}}},
        {"data": {"values": [{"sg": "σᴛ̃/m = 0.5 cm²g⁻¹"}, {"sg": "σᴛ̃/m = 1.5 cm²g⁻¹"}, {"sg": "σᴛ̃/m = 5.0 cm²g⁻¹"}]}, "mark": {"type": "line", "strokeWidth": 3.5},
          "encoding": {"x": {"datum": 0, "type": "quantitative"}, "y": {"datum": 0, "type": "quantitative"},
            "color": {"field": "sg", "type": "nominal", "scale": {"domain": ["σᴛ̃/m = 0.5 cm²g⁻¹", "σᴛ̃/m = 1.5 cm²g⁻¹", "σᴛ̃/m = 5.0 cm²g⁻¹"], "range": ["#2ca02c", "#ff7f0e", "#d62728"]}, "legend": {"title": null, "orient": "none", "legendX": 240, "legendY": 282.5, "symbolSize": 1764, "clipHeight": 29.7, "labelOffset": 15}}}},
        {"data": {"values": [{}]}, "mark": {"type": "text", "text": "v", "fontStyle": "italic", "fontSize": 19}, "encoding": {"x": {"datum": 0.808, "type": "quantitative"}, "y": {"datum": 1769, "type": "quantitative"}}},
        {"data": {"values": [{}]}, "mark": {"type": "text", "text": "rel, ini", "fontSize": 13.5}, "encoding": {"x": {"datum": 0.952, "type": "quantitative"}, "y": {"datum": 1733, "type": "quantitative"}}},
        {"data": {"values": [{}]}, "mark": {"type": "text", "text": "= 1000 km s", "fontSize": 19}, "encoding": {"x": {"datum": 1.561, "type": "quantitative"}, "y": {"datum": 1769, "type": "quantitative"}}},
        {"data": {"values": [{}]}, "mark": {"type": "text", "text": "−1", "fontSize": 13.5}, "encoding": {"x": {"datum": 3.129, "type": "quantitative"}, "y": {"datum": 1858, "type": "quantitative"}}}
      ]
    }
  ]
}
